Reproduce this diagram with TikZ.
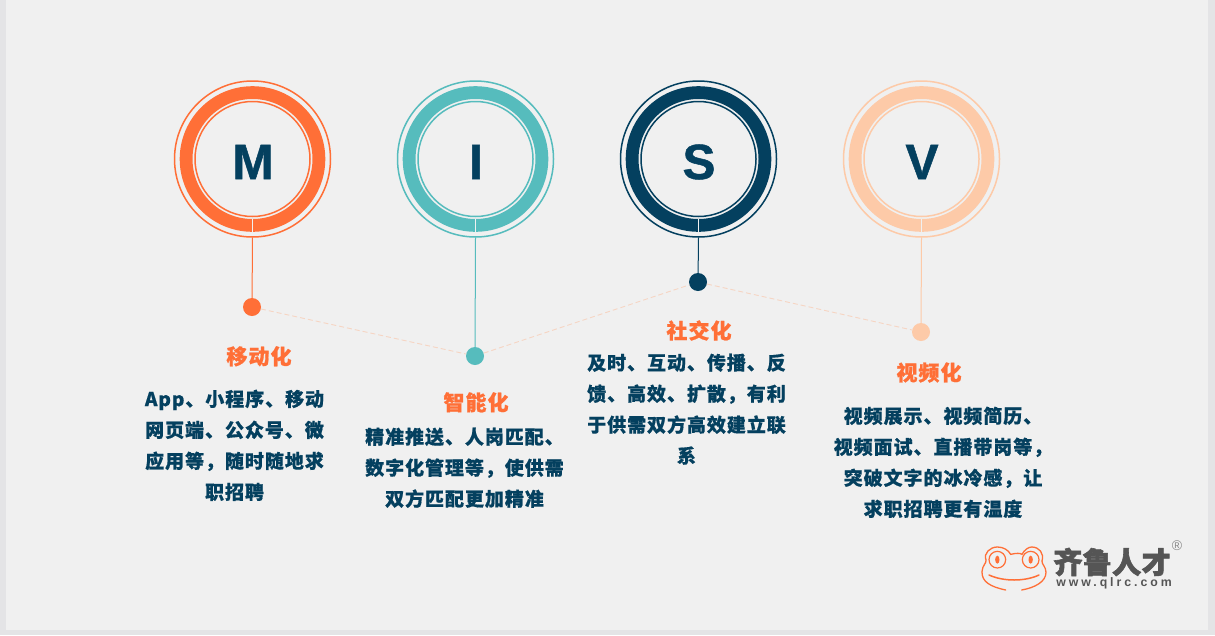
\documentclass[tikz,border=0pt]{standalone}
\usepackage{fontspec}
\newfontfamily\cjkbody[LetterSpace=5,BoldFeatures={FakeBold=0.6}]{Noto Sans CJK SC}
\newfontfamily\cjktitle[LetterSpace=5,BoldFeatures={FakeBold=0.8}]{Noto Sans CJK SC}
\newfontfamily\cjklogo[BoldFeatures={FakeBold=2}]{Noto Sans CJK SC}
\newfontfamily\latinbold{Liberation Sans}
\newfontfamily\letterfont[BoldFeatures={FakeBold=1}]{Liberation Sans}
\newfontfamily\urlfont[LetterSpace=24]{Liberation Sans}
\definecolor{bgc}{HTML}{F0F0F0}
\definecolor{edgec}{HTML}{E4E4E6}
\definecolor{orangec}{HTML}{FF6F37}
\definecolor{tealc}{HTML}{56BCBD}
\definecolor{navyc}{HTML}{04405F}
\definecolor{peachc}{HTML}{FDCAA8}
\definecolor{dashc}{HTML}{F6D5C3}
\definecolor{logog}{HTML}{555555}
\tikzset{
 x=1pt,y=1pt,
 letter/.style={text=navyc,font=\letterfont\bfseries\fontsize{49.5}{48}\selectfont,inner sep=0pt},
 ttl/.style={text=orangec,font=\cjktitle\bfseries\fontsize{21}{24}\selectfont,inner sep=0pt},
 bodytxt/.style={text=navyc,font=\cjkbody\bfseries\fontsize{19}{31}\selectfont,align=center,inner sep=0pt},
 dotn/.style={circle,inner sep=0pt,minimum size=18pt},
 link/.style={draw=dashc,line width=0.9pt,dash pattern=on 5pt off 3pt},
 stem/.style={line width=1pt},
}
\newcommand{\ringset}[4]{% x, colour, letter, name
 \draw[#2,line width=1.5pt] (#1,-159) circle (78);
 \draw[#2,line width=12.8pt] (#1,-159) circle (66.4);
 \draw[#2,line width=1.5pt] (#1,-159) circle (57.5);
 \draw[bgc,line width=1pt] (#1-0.5,-219) -- (#1-0.5,-232);
 \node[letter] (#4) at (#1+0.5,-162) {#3};
}
\begin{document}
\begin{tikzpicture}
\useasboundingbox (0,0) rectangle (1215,-635);
\fill[edgec] (0,0) rectangle (1215,-635);
\fill[bgc] (6,0) rectangle (1208,-630);
\ringset{252.5}{orangec}{M}{lm}
\ringset{475.5}{tealc}{I}{li}
\ringset{698.5}{navyc}{S}{ls}
\ringset{921.5}{peachc}{V}{lv}
\node[dotn,fill=orangec] (dm) at (252,-307) {};
\node[dotn,fill=tealc] (di) at (475,-356) {};
\node[dotn,fill=navyc] (ds) at (698,-282) {};
\node[dotn,fill=peachc] (dv) at (921,-332) {};
\coordinate (cm) at (252.5,-237.5);
\coordinate (ci) at (475.5,-237.5);
\coordinate (cs) at (698.5,-237.5);
\coordinate (cv) at (921.5,-237.5);
\draw[stem,orangec] (cm) -- (dm);
\draw[stem,tealc] (ci) -- (di);
\draw[stem,navyc] (cs) -- (ds);
\draw[stem,peachc] (cv) -- (dv);
\draw[link] (dm) -- (di);
\draw[link] (di) -- (ds);
\draw[link] (ds) -- (dv);
\node[ttl] (tm) at (259,-356.3) {移动化};
\node[ttl] (ti) at (476,-402.3) {智能化};
\node[ttl] (ts) at (699,-330.5) {社交化};
\node[ttl] (tv) at (929,-372.5) {视频化};
\node[bodytxt,anchor=north] (bm) at (234.5,-389.5) {App、小程序、移动\\网页端、公众号、微\\应用等，随时随地求\\职招聘};
\node[bodytxt,anchor=north] (bi) at (464.5,-427.5) {精准推送、人岗匹配、\\数字化管理等，使供需\\双方匹配更加精准};
\node[bodytxt,anchor=north] (bs) at (686.5,-353.5) {及时、互动、传播、反\\馈、高效、扩散，有利\\于供需双方高效建立联\\系};
\node[bodytxt,anchor=north] (bv) at (943,-406.5) {视频展示、视频简历、\\视频面试、直播带岗等，\\突破文字的冰冷感，让\\求职招聘更有温度};
% logo
\begin{scope}[shift={(960,-525)},x=0.3333pt,y=-0.3333pt]
 \draw[orangec,line width=1.3pt,line cap=round] (137,195) .. controls (90,185) and (65,170) .. (66,140)
   .. controls (67,120) and (80,115) .. (78,105) .. controls (70,85) and (90,66) .. (112,66)
   .. controls (130,66) and (145,75) .. (152,88) .. controls (170,84) and (180,84) .. (186,88)
   .. controls (193,75) and (205,66) .. (215,66) .. controls (238,66) and (253,85) .. (246,108)
   .. controls (245,118) and (258,125) .. (258,142) .. controls (258,170) and (225,188) .. (185,195);
 \draw[orangec,line width=1.2pt] (112,104) circle (25);
 \draw[orangec,line width=1.2pt] (212,104) circle (25);
 \fill[orangec] (112,104) ellipse (6.5 and 12);
 \fill[orangec] (212,104) ellipse (6.5 and 12);
 \draw[orangec,line width=1.5pt,line cap=round] (87,150) .. controls (130,170) and (195,170) .. (237,150);
 \node[text=logog,font=\cjklogo\bfseries\fontsize{29.4}{30}\selectfont,inner sep=0pt] (lg) at (456,111) {齐鲁人才};
 \node[text=logog,font=\urlfont\bfseries\fontsize{12.3}{12}\selectfont,inner sep=0pt] (lu) at (462,176) {www.qlrc.com};
 \node[text=logog!70,font=\latinbold\fontsize{14}{14}\selectfont,inner sep=0pt] (lr) at (651,63) {®};
\end{scope}
\end{tikzpicture}
\end{document}
